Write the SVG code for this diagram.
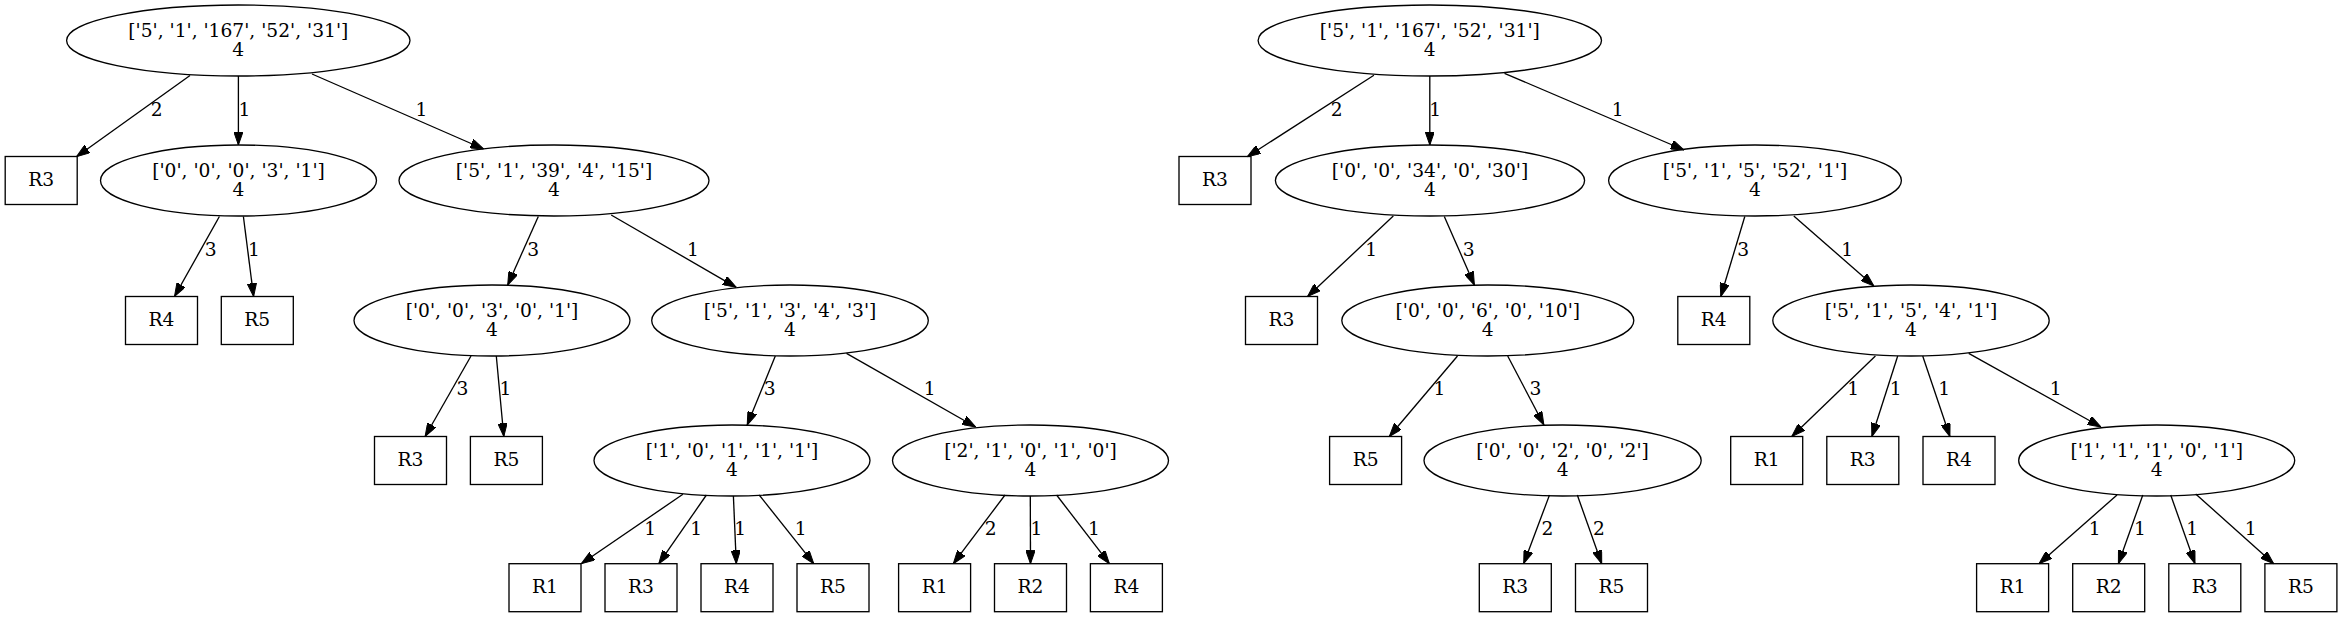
<svg xmlns="http://www.w3.org/2000/svg" width="2342" height="617" viewBox="0 0 2342 617">
<defs>
<style>
text{font-family:"DejaVu Serif","Liberation Serif",serif;font-size:18.67px;fill:#000;text-anchor:middle}
.n ellipse,.n rect{fill:none;stroke:#000;stroke-width:1.33}
.e path{fill:none;stroke:#000;stroke-width:1.33;marker-end:url(#ah)}
</style>
<marker id="ah" viewBox="0 0 13.33 9.33" refX="13.33" refY="4.67" markerWidth="13.33" markerHeight="9.33" markerUnits="userSpaceOnUse" orient="auto"><path d="M0,0 L13.33,4.67 L0,9.33 z" fill="#000" stroke="#000" stroke-width="1"/></marker>
</defs>
<rect width="2342" height="617" fill="#fff"/>
<g id="edges" class="e">
<path d="M190,75.5 L76.5,156.7"/>
<path d="M238.4,76 L238.4,145"/>
<path d="M312,74 L483.7,149"/>
<path d="M219.4,216.5 L174.5,296.5"/>
<path d="M243.4,216.5 L253.6,296.5"/>
<path d="M538.3,216.5 L507.7,285"/>
<path d="M611.2,215 L736.2,287.3"/>
<path d="M471,356 L425.1,436.5"/>
<path d="M496.3,356 L503.8,436.5"/>
<path d="M775.3,356 L747.2,425"/>
<path d="M846.5,353.3 L975.7,427"/>
<path d="M682.9,494.3 L581.3,563.7"/>
<path d="M706.4,495 L658.8,563.7"/>
<path d="M733.4,496 L736.3,563.7"/>
<path d="M759.2,495 L813.8,563.7"/>
<path d="M1005,495 L953.3,563.7"/>
<path d="M1030.3,496 L1030.5,563.7"/>
<path d="M1056.6,495 L1109.4,563.7"/>
<path d="M1373.9,75.3 L1247.3,156.7"/>
<path d="M1429.8,76 L1429.8,145"/>
<path d="M1504.5,73.3 L1684,150"/>
<path d="M1393.3,216 L1307.6,296.5"/>
<path d="M1444.3,216.5 L1474.4,285"/>
<path d="M1744.8,216.5 L1720.8,296.5"/>
<path d="M1793.8,216 L1873.9,286"/>
<path d="M1457.5,356 L1389.3,436.5"/>
<path d="M1507.7,356 L1543.9,425"/>
<path d="M1875.4,356 L1791.8,436.5"/>
<path d="M1897.7,356 L1871.9,436.5"/>
<path d="M1922.7,356 L1949.9,436.5"/>
<path d="M1968.7,353.3 L2101,427"/>
<path d="M1549.5,495 L1523.7,563.7"/>
<path d="M1577.3,495 L1601.7,563.7"/>
<path d="M2117,495 L2039,563.7"/>
<path d="M2142.8,495 L2118.4,563.7"/>
<path d="M2170.7,495 L2195,563.7"/>
<path d="M2195.7,494 L2273.7,563.7"/>
<text x="156.7" y="116">2</text>
<text x="244.5" y="116">1</text>
<text x="421.4" y="116">1</text>
<text x="210.7" y="255.5">3</text>
<text x="254" y="255.5">1</text>
<text x="533.2" y="255.5">3</text>
<text x="692.9" y="255.5">1</text>
<text x="462.5" y="394.5">3</text>
<text x="505.5" y="394.5">1</text>
<text x="769.6" y="394.5">3</text>
<text x="929.7" y="394.5">1</text>
<text x="650.2" y="534.5">1</text>
<text x="696.1" y="534.5">1</text>
<text x="740.3" y="534.5">1</text>
<text x="800.6" y="534.5">1</text>
<text x="990.6" y="534.5">2</text>
<text x="1036.5" y="534.5">1</text>
<text x="1093.9" y="534.5">1</text>
<text x="1336.6" y="116">2</text>
<text x="1435.1" y="116">1</text>
<text x="1617.8" y="116">1</text>
<text x="1371.3" y="255.5">1</text>
<text x="1468.8" y="255.5">3</text>
<text x="1743.3" y="255.5">3</text>
<text x="1847.3" y="255.5">1</text>
<text x="1439.4" y="394.5">1</text>
<text x="1535.5" y="394.5">3</text>
<text x="1853.1" y="394.5">1</text>
<text x="1895.6" y="394.5">1</text>
<text x="1944.3" y="394.5">1</text>
<text x="2055.7" y="394.5">1</text>
<text x="1547.4" y="534.5">2</text>
<text x="1598.9" y="534.5">2</text>
<text x="2094.7" y="534.5">1</text>
<text x="2140" y="534.5">1</text>
<text x="2192.2" y="534.5">1</text>
<text x="2250.8" y="534.5">1</text>
</g>
<g id="A" class="n"><ellipse cx="238.3" cy="40.5" rx="171.7" ry="35.5"/><text x="238.3" y="36.9">['5', '1', '167', '52', '31']</text><text x="238.3" y="55.7">4</text></g>
<g id="B" class="n"><ellipse cx="238.5" cy="180.5" rx="138" ry="35.5"/><text x="238.5" y="176.9">['0', '0', '0', '3', '1']</text><text x="238.5" y="195.7">4</text></g>
<g id="C" class="n"><ellipse cx="554" cy="180.5" rx="155" ry="35.5"/><text x="554" y="176.9">['5', '1', '39', '4', '15']</text><text x="554" y="195.7">4</text></g>
<g id="D" class="n"><ellipse cx="492" cy="320.5" rx="138" ry="35.5"/><text x="492" y="316.9">['0', '0', '3', '0', '1']</text><text x="492" y="335.7">4</text></g>
<g id="E" class="n"><ellipse cx="790" cy="320.5" rx="138.3" ry="35.5"/><text x="790" y="316.9">['5', '1', '3', '4', '3']</text><text x="790" y="335.7">4</text></g>
<g id="F" class="n"><ellipse cx="732" cy="460.5" rx="138" ry="35.5"/><text x="732" y="456.9">['1', '0', '1', '1', '1']</text><text x="732" y="475.7">4</text></g>
<g id="G" class="n"><ellipse cx="1030.5" cy="460.5" rx="138" ry="35.5"/><text x="1030.5" y="456.9">['2', '1', '0', '1', '0']</text><text x="1030.5" y="475.7">4</text></g>
<g id="H" class="n"><ellipse cx="1429.8" cy="40.5" rx="171.7" ry="35.5"/><text x="1429.8" y="36.9">['5', '1', '167', '52', '31']</text><text x="1429.8" y="55.7">4</text></g>
<g id="I" class="n"><ellipse cx="1430" cy="180.5" rx="154.6" ry="35.5"/><text x="1430" y="176.9">['0', '0', '34', '0', '30']</text><text x="1430" y="195.7">4</text></g>
<g id="J" class="n"><ellipse cx="1755" cy="180.5" rx="146.4" ry="35.5"/><text x="1755" y="176.9">['5', '1', '5', '52', '1']</text><text x="1755" y="195.7">4</text></g>
<g id="K" class="n"><ellipse cx="1487.8" cy="320.5" rx="146" ry="35.5"/><text x="1487.8" y="316.9">['0', '0', '6', '0', '10']</text><text x="1487.8" y="335.7">4</text></g>
<g id="L" class="n"><ellipse cx="1911" cy="320.5" rx="138.2" ry="35.5"/><text x="1911" y="316.9">['5', '1', '5', '4', '1']</text><text x="1911" y="335.7">4</text></g>
<g id="M" class="n"><ellipse cx="1562.6" cy="460.5" rx="138.6" ry="35.5"/><text x="1562.6" y="456.9">['0', '0', '2', '0', '2']</text><text x="1562.6" y="475.7">4</text></g>
<g id="N" class="n"><ellipse cx="2156.7" cy="460.5" rx="138" ry="35.5"/><text x="2156.7" y="456.9">['1', '1', '1', '0', '1']</text><text x="2156.7" y="475.7">4</text></g>
<g id="a_R3" class="n"><rect x="5.2" y="156.5" width="72" height="48"/><text x="41.2" y="186">R3</text></g>
<g id="b_R4" class="n"><rect x="125.5" y="296.5" width="72" height="48"/><text x="161.5" y="326">R4</text></g>
<g id="b_R5" class="n"><rect x="221.3" y="296.5" width="72" height="48"/><text x="257.3" y="326">R5</text></g>
<g id="d_R3" class="n"><rect x="374.5" y="436.5" width="72" height="48"/><text x="410.5" y="466">R3</text></g>
<g id="d_R5" class="n"><rect x="470.4" y="436.5" width="72" height="48"/><text x="506.4" y="466">R5</text></g>
<g id="f_R1" class="n"><rect x="509" y="563.7" width="72" height="48"/><text x="545" y="593.2">R1</text></g>
<g id="f_R3" class="n"><rect x="605" y="563.7" width="72" height="48"/><text x="641" y="593.2">R3</text></g>
<g id="f_R4" class="n"><rect x="701" y="563.7" width="72" height="48"/><text x="737" y="593.2">R4</text></g>
<g id="f_R5" class="n"><rect x="797" y="563.7" width="72" height="48"/><text x="833" y="593.2">R5</text></g>
<g id="g_R1" class="n"><rect x="898.6" y="563.7" width="72" height="48"/><text x="934.6" y="593.2">R1</text></g>
<g id="g_R2" class="n"><rect x="994.5" y="563.7" width="72" height="48"/><text x="1030.5" y="593.2">R2</text></g>
<g id="g_R4" class="n"><rect x="1090.4" y="563.7" width="72" height="48"/><text x="1126.4" y="593.2">R4</text></g>
<g id="h_R3" class="n"><rect x="1179" y="156.5" width="72" height="48"/><text x="1215" y="186">R3</text></g>
<g id="i_R3" class="n"><rect x="1245.5" y="296.5" width="72" height="48"/><text x="1281.5" y="326">R3</text></g>
<g id="j_R4" class="n"><rect x="1677.8" y="296.5" width="72" height="48"/><text x="1713.8" y="326">R4</text></g>
<g id="k_R5" class="n"><rect x="1329.6" y="436.5" width="72" height="48"/><text x="1365.6" y="466">R5</text></g>
<g id="l_R1" class="n"><rect x="1730.7" y="436.5" width="72" height="48"/><text x="1766.7" y="466">R1</text></g>
<g id="l_R3" class="n"><rect x="1826.8" y="436.5" width="72" height="48"/><text x="1862.8" y="466">R3</text></g>
<g id="l_R4" class="n"><rect x="1923" y="436.5" width="72" height="48"/><text x="1959" y="466">R4</text></g>
<g id="m_R3" class="n"><rect x="1479.3" y="563.7" width="72" height="48"/><text x="1515.3" y="593.2">R3</text></g>
<g id="m_R5" class="n"><rect x="1575.5" y="563.7" width="72" height="48"/><text x="1611.5" y="593.2">R5</text></g>
<g id="n_R1" class="n"><rect x="1976.6" y="563.7" width="72" height="48"/><text x="2012.6" y="593.2">R1</text></g>
<g id="n_R2" class="n"><rect x="2072.7" y="563.7" width="72" height="48"/><text x="2108.7" y="593.2">R2</text></g>
<g id="n_R3" class="n"><rect x="2168.8" y="563.7" width="72" height="48"/><text x="2204.8" y="593.2">R3</text></g>
<g id="n_R5" class="n"><rect x="2264.9" y="563.7" width="72" height="48"/><text x="2300.9" y="593.2">R5</text></g>
</svg>
